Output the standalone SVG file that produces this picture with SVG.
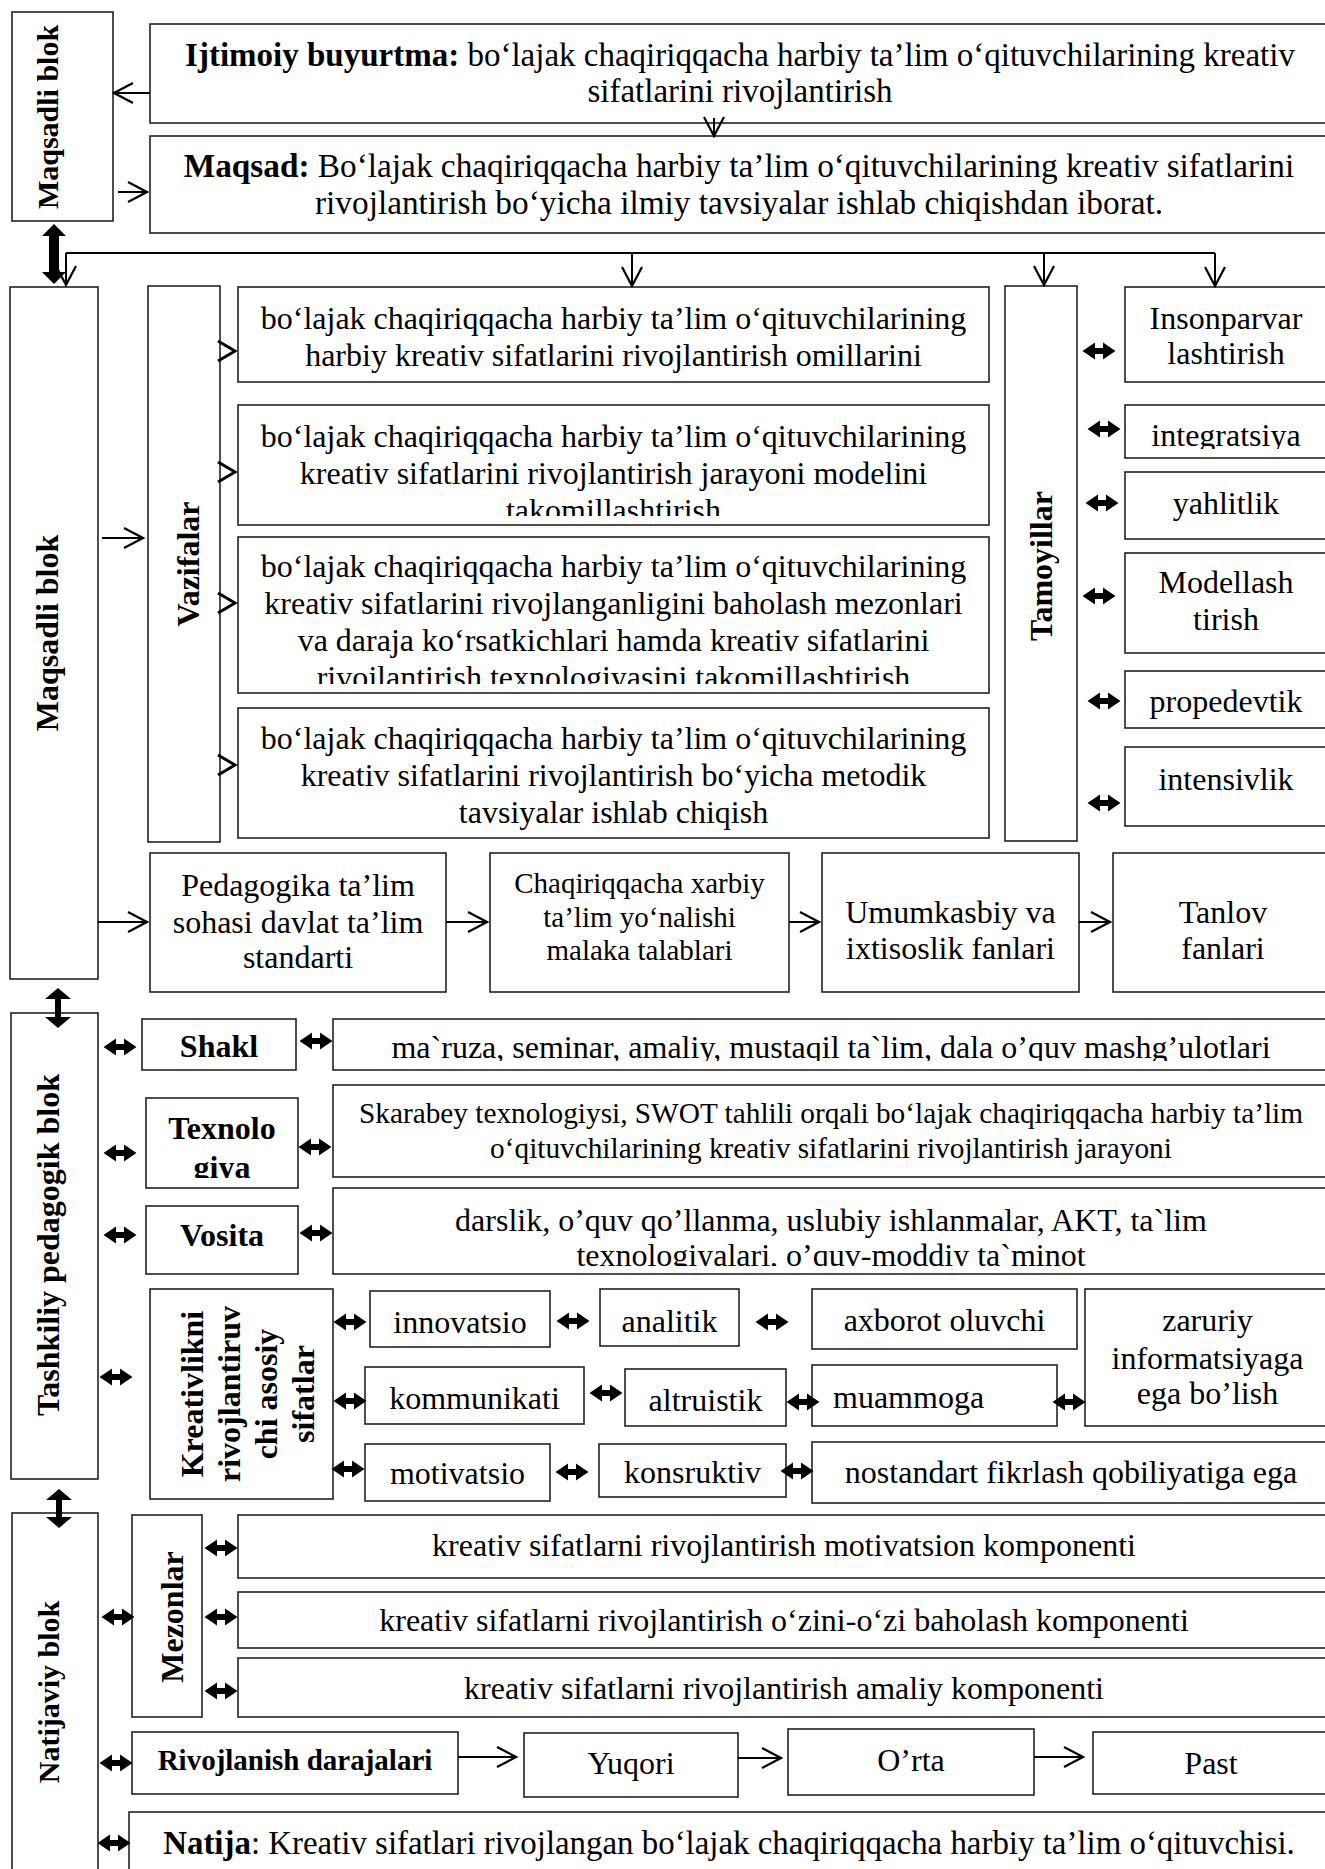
<svg xmlns="http://www.w3.org/2000/svg" xmlns:xlink="http://www.w3.org/1999/xlink" width="1325" height="1869" viewBox="0 0 1325 1869">
<style>
.bx{fill:none;stroke:#222;stroke-width:1.6}
.t{font-family:"Liberation Serif","Times New Roman",serif;font-size:32px;fill:#000;text-anchor:middle}
.st{text-anchor:start}
.b{font-weight:bold}
.s33{font-size:33px}
.s333{font-size:33.3px}
.s329{font-size:32.9px}
.s30{font-size:30px}
.s29{font-size:29px}
.s293{font-size:29.3px}
.ln{fill:none;stroke:#000;stroke-width:2}
.ar{fill:none;stroke:#000;stroke-width:2;marker-end:url(#ah)}
.ch{fill:none;stroke:#000;stroke-width:3}
.da{fill:#000}
.ba{fill:#000}
</style>
<defs>
<marker id="ah" viewBox="0 0 24 24" refX="22" refY="12" markerWidth="24" markerHeight="24" markerUnits="userSpaceOnUse" orient="auto">
<path d="M3,2 L22,12 L3,22" fill="none" stroke="#000" stroke-width="2.2"/>
</marker>
<path id="da" d="M-16.5,0 L-4,-8.5 L-4,-3 L4,-3 L4,-8.5 L16.5,0 L4,8.5 L4,3 L-4,3 L-4,8.5 Z"/>
<clipPath id="cT2"><rect x="238" y="405" width="751" height="111"/></clipPath>
<clipPath id="cT3"><rect x="238" y="537" width="751" height="147"/></clipPath>
<clipPath id="cP2"><rect x="1125" y="405" width="205" height="44"/></clipPath>
<clipPath id="cSh"><rect x="333" y="1019" width="997" height="42"/></clipPath>
<clipPath id="cTx"><rect x="146" y="1098" width="152" height="80"/></clipPath>
<clipPath id="cVo"><rect x="333" y="1188" width="997" height="78"/></clipPath>
</defs>
<rect width="1325" height="1869" fill="#fff"/>

<g id="n-maqsadli-top"><rect class="bx" x="12" y="12" width="101" height="209"/><text class="t b s30" transform="translate(58,117) rotate(-90)">Maqsadli blok</text></g>
<g id="n-ijtimoiy"><rect class="bx" x="150" y="24" width="1180" height="99"/><text class="t s33" x="740" y="66"><tspan class="b">Ijtimoiy buyurtma:</tspan> bo‘lajak chaqiriqqacha harbiy ta’lim o‘qituvchilarining kreativ</text><text class="t s33" x="740" y="102">sifatlarini rivojlantirish</text></g>
<g id="n-maqsad"><rect class="bx" x="150" y="136" width="1180" height="97"/><text class="t s333" x="739" y="177"><tspan class="b">Maqsad:</tspan> Bo‘lajak chaqiriqqacha harbiy ta’lim o‘qituvchilarining kreativ sifatlarini</text><text class="t s333" x="739" y="214">rivojlantirish bo‘yicha ilmiy tavsiyalar ishlab chiqishdan iborat.</text></g>

<g id="n-maqsadli"><rect class="bx" x="10" y="287" width="88" height="692"/><text class="t b" transform="translate(58,633) rotate(-90)">Maqsadli blok</text></g>
<g id="n-vazifalar"><rect class="bx" x="148" y="286" width="72" height="556"/><text class="t b" transform="translate(199,564) rotate(-90)">Vazifalar</text></g>
<g id="n-task1"><rect class="bx" x="238" y="287" width="751" height="95"/><text class="t" x="613.5" y="329">bo‘lajak chaqiriqqacha harbiy ta’lim o‘qituvchilarining</text><text class="t" x="613.5" y="366">harbiy kreativ sifatlarini rivojlantirish omillarini</text></g>
<g id="n-task2"><rect class="bx" x="238" y="405" width="751" height="120"/><g clip-path="url(#cT2)"><text class="t" x="613.5" y="447">bo‘lajak chaqiriqqacha harbiy ta’lim o‘qituvchilarining</text><text class="t" x="613.5" y="484">kreativ sifatlarini rivojlantirish jarayoni modelini</text><text class="t" x="613.5" y="521">takomillashtirish</text></g></g>
<g id="n-task3"><rect class="bx" x="238" y="537" width="751" height="156"/><g clip-path="url(#cT3)"><text class="t" x="613.5" y="577">bo‘lajak chaqiriqqacha harbiy ta’lim o‘qituvchilarining</text><text class="t" x="613.5" y="614">kreativ sifatlarini rivojlanganligini baholash mezonlari</text><text class="t" x="613.5" y="651">va daraja ko‘rsatkichlari hamda kreativ sifatlarini</text><text class="t" x="613.5" y="688">rivojlantirish texnologiyasini takomillashtirish</text></g></g>
<g id="n-task4"><rect class="bx" x="238" y="708" width="751" height="130"/><text class="t" x="613.5" y="749">bo‘lajak chaqiriqqacha harbiy ta’lim o‘qituvchilarining</text><text class="t" x="613.5" y="786">kreativ sifatlarini rivojlantirish bo‘yicha metodik</text><text class="t" x="613.5" y="823">tavsiyalar ishlab chiqish</text></g>
<g id="n-tamoyillar"><rect class="bx" x="1005" y="286" width="72" height="555"/><text class="t b" transform="translate(1052,566) rotate(-90)">Tamoyillar</text></g>
<g id="n-p1"><rect class="bx" x="1125" y="287" width="205" height="95"/><text class="t" x="1226" y="329">Insonparvar</text><text class="t" x="1226" y="364">lashtirish</text></g>
<g id="n-p2"><rect class="bx" x="1125" y="405" width="205" height="53"/><text class="t" x="1226" y="446" clip-path="url(#cP2)">integratsiya</text></g>
<g id="n-p3"><rect class="bx" x="1125" y="472" width="205" height="67"/><text class="t" x="1226" y="514">yahlitlik</text></g>
<g id="n-p4"><rect class="bx" x="1125" y="553" width="205" height="100"/><text class="t" x="1226" y="593">Modellash</text><text class="t" x="1226" y="630">tirish</text></g>
<g id="n-p5"><rect class="bx" x="1125" y="671" width="205" height="57"/><text class="t" x="1226" y="712">propedevtik</text></g>
<g id="n-p6"><rect class="bx" x="1125" y="747" width="205" height="79"/><text class="t" x="1226" y="790">intensivlik</text></g>
<g id="n-ped"><rect class="bx" x="150" y="853" width="296" height="139"/><text class="t" x="298" y="896">Pedagogika ta’lim</text><text class="t" x="298" y="933">sohasi davlat ta’lim</text><text class="t" x="298" y="968">standarti</text></g>
<g id="n-chaq"><rect class="bx" x="490" y="853" width="299" height="139"/><text class="t s29" x="639.5" y="893">Chaqiriqqacha xarbiy</text><text class="t s29" x="639.5" y="927">ta’lim yo‘nalishi</text><text class="t s29" x="639.5" y="960">malaka talablari</text></g>
<g id="n-umum"><rect class="bx" x="822" y="853" width="257" height="139"/><text class="t" x="950.5" y="923">Umumkasbiy va</text><text class="t" x="950.5" y="959">ixtisoslik fanlari</text></g>
<g id="n-tanlov"><rect class="bx" x="1113" y="853" width="217" height="139"/><text class="t" x="1223" y="923">Tanlov</text><text class="t" x="1223" y="959">fanlari</text></g>

<g id="n-tashkiliy"><rect class="bx" x="11" y="1013" width="87" height="466"/><text class="t b" transform="translate(59,1245) rotate(-90)">Tashkiliy pedagogik blok</text></g>
<g id="n-shakl"><rect class="bx" x="142" y="1019" width="154" height="51"/><text class="t b" x="219" y="1057">Shakl</text></g>
<g id="n-shakl-d"><rect class="bx" x="333" y="1019" width="997" height="51"/><text class="t" x="831" y="1058" clip-path="url(#cSh)">ma`ruza, seminar, amaliy, mustaqil ta`lim, dala o’quv mashg’ulotlari</text></g>
<g id="n-tex"><rect class="bx" x="146" y="1098" width="152" height="90"/><g clip-path="url(#cTx)"><text class="t b" x="222" y="1139">Texnolo</text><text class="t b" x="222" y="1178">giya</text></g></g>
<g id="n-tex-d"><rect class="bx" x="333" y="1085" width="997" height="92"/><text class="t s293" x="831" y="1123">Skarabey texnologiysi, SWOT tahlili orqali bo‘lajak chaqiriqqacha harbiy ta’lim</text><text class="t s293" x="831" y="1158">o‘qituvchilarining kreativ sifatlarini rivojlantirish jarayoni</text></g>
<g id="n-vosita"><rect class="bx" x="146" y="1206" width="152" height="68"/><text class="t b" x="222" y="1246">Vosita</text></g>
<g id="n-vosita-d"><rect class="bx" x="333" y="1188" width="997" height="86"/><g clip-path="url(#cVo)"><text class="t" x="831" y="1231">darslik, o’quv qo’llanma, uslubiy ishlanmalar, AKT, ta`lim</text><text class="t" x="831" y="1266">texnologiyalari, o’quv-moddiy ta`minot</text></g></g>
<g id="n-kreat"><rect class="bx" x="150" y="1289" width="183" height="210"/><text class="t b" transform="translate(203,1394) rotate(-90)"><tspan x="0" dy="0">Kreativlikni</tspan><tspan x="0" dy="37">rivojlantiruv</tspan><tspan x="0" dy="37">chi asosiy</tspan><tspan x="0" dy="37">sifatlar</tspan></text></g>
<g id="n-innov"><rect class="bx" x="370" y="1291" width="180" height="56"/><text class="t" x="460" y="1333">innovatsio</text></g>
<g id="n-anal"><rect class="bx" x="600" y="1289" width="139" height="57"/><text class="t" x="669.5" y="1332">analitik</text></g>
<g id="n-axb"><rect class="bx" x="812" y="1289" width="265" height="60"/><text class="t" x="944.5" y="1331">axborot oluvchi</text></g>
<g id="n-zar"><rect class="bx" x="1085" y="1289" width="245" height="137"/><text class="t" x="1207.5" y="1331">zaruriy</text><text class="t" x="1207.5" y="1369">informatsiyaga</text><text class="t" x="1207.5" y="1404">ega bo’lish</text></g>
<g id="n-komm"><rect class="bx" x="365" y="1367" width="219" height="57"/><text class="t" x="474.5" y="1409">kommunikati</text></g>
<g id="n-alt"><rect class="bx" x="625" y="1369" width="161" height="57"/><text class="t" x="705.5" y="1411">altruistik</text></g>
<g id="n-muam"><rect class="bx" x="812" y="1365" width="245" height="61"/><text class="t st" x="833" y="1408">muammoga</text></g>
<g id="n-motiv"><rect class="bx" x="365" y="1444" width="185" height="57"/><text class="t" x="457.5" y="1484">motivatsio</text></g>
<g id="n-kons"><rect class="bx" x="599" y="1444" width="187" height="53"/><text class="t" x="692.5" y="1483">konsruktiv</text></g>
<g id="n-nost"><rect class="bx" x="812" y="1442" width="518" height="61"/><text class="t" x="1071" y="1483">nostandart fikrlash qobiliyatiga ega</text></g>

<g id="n-natijaviy"><rect class="bx" x="12" y="1513" width="86" height="400"/><text class="t b s30" transform="translate(59,1692) rotate(-90)">Natijaviy blok</text></g>
<g id="n-mezonlar"><rect class="bx" x="132" y="1515" width="70" height="202"/><text class="t b" transform="translate(183,1617) rotate(-90)">Mezonlar</text></g>
<g id="n-m1"><rect class="bx" x="238" y="1515" width="1092" height="63"/><text class="t" x="784" y="1556">kreativ sifatlarni rivojlantirish motivatsion komponenti</text></g>
<g id="n-m2"><rect class="bx" x="238" y="1592" width="1092" height="56"/><text class="t" x="784" y="1631">kreativ sifatlarni rivojlantirish o‘zini-o‘zi baholash komponenti</text></g>
<g id="n-m3"><rect class="bx" x="238" y="1658" width="1092" height="59"/><text class="t" x="784" y="1699">kreativ sifatlarni rivojlantirish amaliy komponenti</text></g>
<g id="n-rivoj"><rect class="bx" x="132" y="1732" width="326" height="62"/><text class="t b s29" x="295" y="1770">Rivojlanish darajalari</text></g>
<g id="n-yuqori"><rect class="bx" x="524" y="1733" width="214" height="64"/><text class="t" x="631" y="1774">Yuqori</text></g>
<g id="n-orta"><rect class="bx" x="788" y="1729" width="246" height="66"/><text class="t" x="911" y="1771">O’rta</text></g>
<g id="n-past"><rect class="bx" x="1093" y="1732" width="237" height="62"/><text class="t" x="1211" y="1774">Past</text></g>
<g id="n-natija"><rect class="bx" x="129" y="1812" width="1201" height="70"/><text class="t s329" x="729" y="1854"><tspan class="b">Natija</tspan>: Kreativ sifatlari rivojlangan bo‘lajak chaqiriqqacha harbiy ta’lim o‘qituvchisi.</text></g>

<g id="connectors">
<path class="ar" d="M150,93 H114"/>
<path class="ar" d="M118,192 H147"/>
<path class="ar" d="M714,118 V136"/>
<path class="ln" d="M66,253 H1215"/>
<path class="ar" d="M66,253 V285"/>
<path class="ar" d="M632,253 V286"/>
<path class="ar" d="M1044,253 V285"/>
<path class="ar" d="M1215,253 V286"/>
<path class="ba" d="M54,224 L66,236 L59,236 L59,272 L66,272 L54,284 L42,272 L49,272 L49,236 L42,236 Z"/>
<path class="ba" d="M58,988 L71,999 L61,999 L61,1017 L71,1017 L58,1028 L45,1017 L55,1017 L55,999 L45,999 Z"/>
<path class="ba" d="M59,1489 L72,1500 L62,1500 L62,1517 L72,1517 L59,1528 L46,1517 L56,1517 L56,1500 L46,1500 Z"/>
<path class="ar" d="M102,538 H143"/>
<path class="ch" d="M218,341 L235,351 L218,361"/>
<path class="ch" d="M218,462 L235,472 L218,482"/>
<path class="ch" d="M218,593 L235,603 L218,613"/>
<path class="ch" d="M218,755 L235,765 L218,775"/>
<path class="ar" d="M98,922 H147"/>
<path class="ar" d="M446,922 H487"/>
<path class="ar" d="M789,922 H819"/>
<path class="ar" d="M1079,922 H1110"/>
<path class="ar" d="M458,1757 H516"/>
<path class="ar" d="M738,1758 H781"/>
<path class="ar" d="M1034,1757 H1083"/>
<use href="#da" class="da" x="1099" y="351"/>
<use href="#da" class="da" x="1104" y="429"/>
<use href="#da" class="da" x="1102" y="503"/>
<use href="#da" class="da" x="1099" y="596"/>
<use href="#da" class="da" x="1104" y="701"/>
<use href="#da" class="da" x="1104" y="803"/>
<use href="#da" class="da" x="120" y="1047"/>
<use href="#da" class="da" x="316" y="1041"/>
<use href="#da" class="da" x="120" y="1153"/>
<use href="#da" class="da" x="315" y="1147"/>
<use href="#da" class="da" x="120" y="1235"/>
<use href="#da" class="da" x="316" y="1233"/>
<use href="#da" class="da" x="116" y="1377"/>
<use href="#da" class="da" x="350" y="1322"/>
<use href="#da" class="da" x="573" y="1321"/>
<use href="#da" class="da" x="772" y="1322"/>
<use href="#da" class="da" x="350" y="1401"/>
<use href="#da" class="da" x="606" y="1393"/>
<use href="#da" class="da" x="803" y="1402"/>
<use href="#da" class="da" x="1069" y="1402"/>
<use href="#da" class="da" x="348" y="1469"/>
<use href="#da" class="da" x="572" y="1472"/>
<use href="#da" class="da" x="797" y="1471"/>
<use href="#da" class="da" x="118" y="1617"/>
<use href="#da" class="da" x="221" y="1548"/>
<use href="#da" class="da" x="221" y="1617"/>
<use href="#da" class="da" x="221" y="1691"/>
<use href="#da" class="da" x="116" y="1763"/>
<use href="#da" class="da" x="114" y="1843"/>
</g>
</svg>
